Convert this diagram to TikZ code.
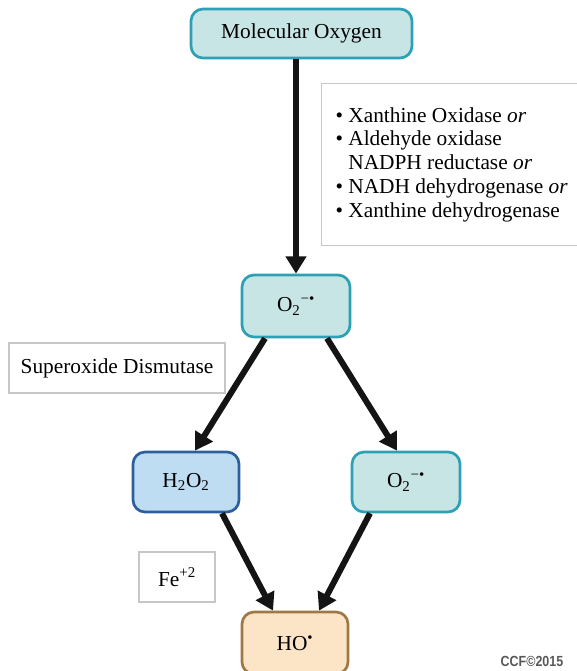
\documentclass[tikz,border=0pt]{standalone}
\usepackage{fontspec}
\setmainfont{Liberation Serif}
\newfontfamily\creditfont{Liberation Sans}
\usetikzlibrary{arrows.meta,positioning,calc}
\definecolor{tealedge}{RGB}{45,160,180}
\definecolor{tealfill}{RGB}{200,229,230}
\definecolor{blueedge}{RGB}{45,95,155}
\definecolor{bluefill}{RGB}{190,220,242}
\definecolor{tanedge}{RGB}{160,120,70}
\definecolor{tanfill}{RGB}{252,229,198}
\definecolor{ink}{RGB}{20,20,20}
\tikzset{
  >={Triangle[length=13pt,width=15pt]},
  box/.style 2 args={draw=#1,fill=#2,rounded corners=9pt,line width=2pt,
    minimum width=79.5pt,minimum height=46.5pt,align=center,
    font=\fontsize{16}{18}\selectfont},
  note/.style={draw=black!22,fill=white,line width=0.9pt,align=flush left,
    font=\fontsize{16}{17.8}\selectfont},
  flow/.style={->,line width=4.5pt,draw=ink},
}

\begin{document}
\begin{tikzpicture}[x=0.75pt,y=-0.75pt]
  \useasboundingbox (0,0) rectangle (577,671);
  \clip (0,0) rectangle (577,671);
  % species
  \node[box={tealedge}{tealfill},minimum width=165.75pt,minimum height=36.75pt] (mol) at (301.5,33.5) {Molecular Oxygen};
  \node[box={tealedge}{tealfill},minimum width=81pt] (o2a) at (296,306) {O\textsubscript{2}\textsuperscript{−•}};
  \node[box={blueedge}{bluefill},minimum height=45pt] (h2o2) at (186,482) {H\textsubscript{2}O\textsubscript{2}};
  \node[box={tealedge}{tealfill},minimum width=81pt,minimum height=45pt] (o2b) at (406,482) {O\textsubscript{2}\textsuperscript{−•}};
  \node[box={tanedge}{tanfill}] (ho) at (295,643) {HO\textsuperscript{•}};
  % enzymes
  \node[note,anchor=north west,inner xsep=10.5pt,text width=189pt,minimum height=121.5pt] (enz) at (321,83)
    {\textbullet\ Xanthine Oxidase \textit{or}\\
     \textbullet\ Aldehyde oxidase\\
     \phantom{\textbullet\ }NADPH reductase \textit{or}\\
     \textbullet\ NADH dehydrogenase \textit{or}\\
     \textbullet\ Xanthine dehydrogenase};
  \node[note,minimum width=162pt,minimum height=37.5pt] (sod) at (117,368) {Superoxide Dismutase};
  \node[note,minimum width=57pt,minimum height=37.5pt] (fe) at (177,577) {Fe\textsuperscript{+2}};
  % arrows
  \draw[flow] (o2a.north |- mol.south) -- (o2a.north);
  \draw[flow] ($(o2a.south)+(-31,0)$) -- ($(h2o2.north)+(9,0)$);
  \draw[flow] ($(o2a.south)+(31,0)$) -- ($(o2b.north)+(-9,0)$);
  \draw[flow] ($(h2o2.south)+(36,0)$) -- ($(ho.north)+(-22,0)$);
  \draw[flow] ($(o2b.south)+(-36,0)$) -- ($(ho.north)+(24,0)$);
  \node[font=\creditfont\bfseries\fontsize{11}{12}\selectfont,text=black!65] (ccf) at (532,661) {\scalebox{0.85}[1]{CCF©2015}};
\end{tikzpicture}
\end{document}
